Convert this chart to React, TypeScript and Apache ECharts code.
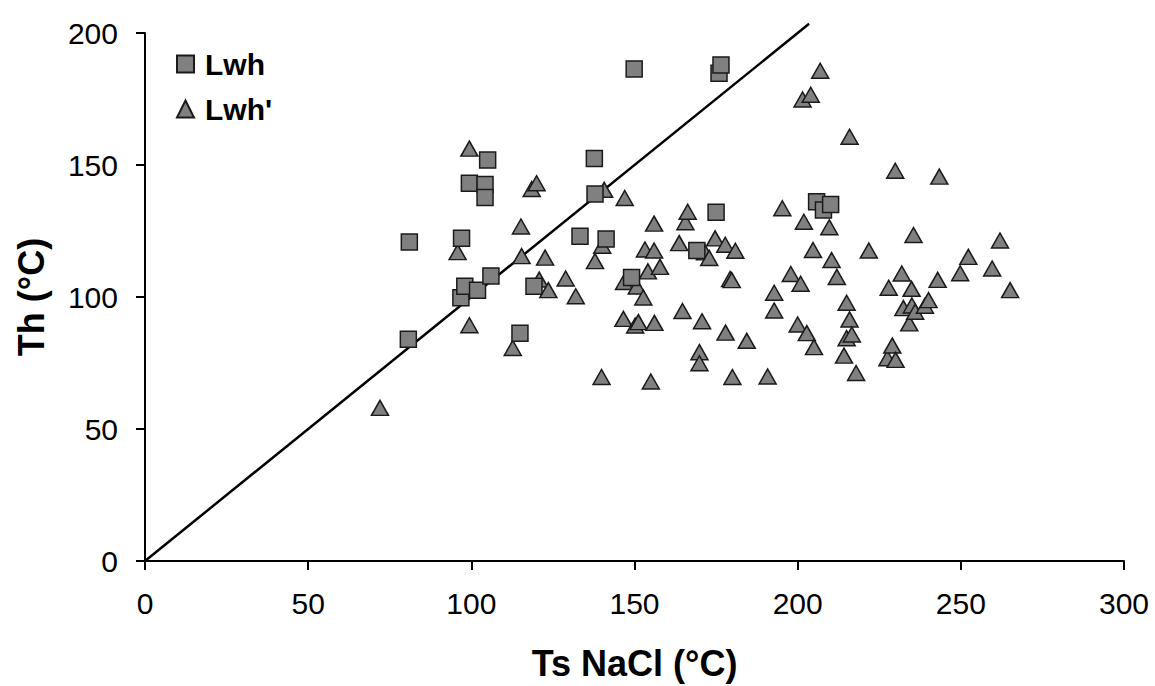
import React, { useEffect, useRef } from "react";
import * as echarts from "echarts";

const xTickMin = 0;
const xTickMax = 300;
const xTickStep = 50;
const yTickMin = 0;
const yTickMax = 200;
const yTickStep = 50;

const seriesNames = ["Lwh", "Lwh'"];

// Lwh (squares): [Ts NaCl, Th]
const lwh: [number, number][] = [
  [80.7, 84.0], [81.0, 120.8], [96.8, 99.7], [98.0, 104.1], [101.9, 102.6],
  [97.0, 122.3], [99.4, 143.1], [104.2, 142.6], [104.2, 137.7], [105.0, 151.9],
  [106.0, 108.0], [114.9, 86.3], [119.2, 104.1], [133.3, 123.0], [137.7, 152.5],
  [137.9, 139.0], [141.3, 122.0], [149.1, 107.4], [149.9, 186.4], [169.1, 117.6],
  [175.0, 132.1], [175.9, 184.8], [176.5, 187.9], [205.8, 136.1], [207.9, 133.0],
  [210.1, 135.0],
];

// Lwh' (triangles): [Ts NaCl, Th]
const lwhPrime: [number, number][] = [
  [72.0, 58.0], [95.8, 117.0], [99.4, 156.2], [99.4, 89.3], [112.7, 80.7],
  [115.2, 126.7], [115.4, 115.5], [118.5, 140.9], [120.0, 143.1], [120.8, 106.6],
  [122.6, 114.9], [123.6, 102.6], [128.9, 107.0], [132.0, 100.3], [137.9, 113.6],
  [139.9, 69.7], [140.1, 119.4], [140.7, 140.6], [146.6, 91.7], [146.8, 105.7],
  [147.0, 137.5], [150.2, 89.2], [150.7, 104.0], [151.2, 90.5], [152.7, 99.8],
  [153.2, 118.0], [154.1, 109.7], [155.0, 68.0], [156.0, 127.8], [156.0, 117.6],
  [156.1, 90.2], [157.8, 111.4], [163.7, 120.4], [164.7, 94.7], [165.6, 128.3],
  [166.3, 132.3], [169.9, 79.1], [169.9, 74.9], [170.7, 90.8], [171.6, 116.9],
  [172.9, 114.8], [174.7, 122.2], [177.8, 119.8], [177.9, 86.5], [179.3, 106.8],
  [179.8, 106.4], [180.0, 69.7], [180.9, 117.5], [184.4, 83.4], [190.8, 69.9],
  [192.8, 101.6], [192.8, 94.9], [195.3, 133.6], [197.9, 108.7], [200.0, 89.6],
  [200.9, 105.0], [201.5, 174.8], [201.9, 128.5], [202.8, 86.3], [204.0, 176.6],
  [204.7, 117.8], [205.0, 81.0], [206.9, 185.7], [209.7, 126.4], [210.4, 114.0],
  [212.0, 107.6], [214.2, 77.8], [215.0, 84.4], [215.0, 97.8], [215.9, 91.5],
  [215.9, 160.7], [216.6, 85.8], [217.9, 71.2], [221.8, 117.6], [227.5, 76.8],
  [227.9, 103.5], [229.0, 81.6], [229.9, 147.8], [230.0, 76.2], [231.9, 108.9],
  [232.4, 95.8], [234.2, 90.0], [234.9, 103.1], [235.0, 96.8], [235.5, 123.5],
  [236.0, 94.4], [239.0, 96.7], [240.1, 98.8], [242.9, 106.5], [243.4, 145.6],
  [249.8, 109.0], [252.3, 115.2], [259.6, 110.8], [262.0, 121.4], [265.1, 102.6],
];

// 1:1 reference line
const refLine: [number, number][] = [
  [0, 0],
  [203.5, 203.5],
];

const FONT = "'Liberation Sans', Arial, Helvetica, sans-serif";

export default function App() {
  const ref = useRef<HTMLDivElement>(null);

  useEffect(() => {
    if (!ref.current) return;
    const chart = echarts.init(ref.current, null, { renderer: "svg" });
    const markerStyle = {
      color: "#808080",
      borderColor: "#1a1a1a",
      borderWidth: 1.5,
      opacity: 1,
    };
    const axisCommon = {
      axisLine: { show: true, lineStyle: { color: "#000", width: 2 } },
      axisTick: { show: true, inside: false, length: 9, lineStyle: { color: "#000", width: 2 } },
      splitLine: { show: false },
      nameLocation: "middle" as const,
      nameTextStyle: { color: "#000", fontSize: 36, fontWeight: "bold" as const, fontFamily: FONT },
    };
    chart.setOption({
      animation: false,
      backgroundColor: "#fff",
      textStyle: { fontFamily: FONT },
      grid: { left: 145, right: 31, top: 33, bottom: 122, containLabel: false },
      legend: {
        data: seriesNames,
        orient: "vertical",
        left: 176,
        top: 49,
        padding: 0,
        itemWidth: 17,
        itemHeight: 17,
        itemGap: 15,
        textStyle: {
          color: "#000",
          fontSize: 30,
          fontWeight: "bold",
          fontFamily: FONT,
          padding: [0, 0, 0, 6],
        },
      },
      xAxis: {
        type: "value",
        min: xTickMin,
        max: xTickMax,
        interval: xTickStep,
        name: "Ts NaCl (°C)",
        nameGap: 84,
        ...axisCommon,
        axisLabel: { color: "#000", fontSize: 30, fontFamily: FONT, margin: 27 },
      },
      yAxis: {
        type: "value",
        min: yTickMin,
        max: yTickMax,
        interval: yTickStep,
        name: "Th (°C)",
        nameGap: 96,
        ...axisCommon,
        axisLabel: { color: "#000", fontSize: 30, fontFamily: FONT, margin: 27 },
      },
      series: [
        {
          name: "1:1",
          type: "line",
          data: refLine,
          symbol: "none",
          clip: false,
          silent: true,
          z: 1,
          lineStyle: { color: "#000", width: 2.5 },
        },
        {
          name: seriesNames[0],
          type: "scatter",
          data: lwh,
          symbol: "rect",
          symbolSize: 16,
          z: 3,
          itemStyle: markerStyle,
        },
        {
          name: seriesNames[1],
          type: "scatter",
          data: lwhPrime,
          symbol: "triangle",
          symbolSize: [17, 15],
          z: 2,
          itemStyle: markerStyle,
        },
      ],
    });
    return () => chart.dispose();
  }, []);

  return (
    <div
      ref={ref}
      style={{ position: "absolute", left: 0, top: 0, width: 1155, height: 686, background: "#fff" }}
    />
  );
}
